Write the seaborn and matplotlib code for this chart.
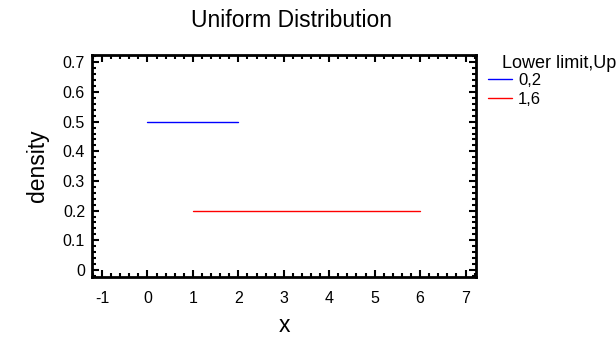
import numpy as np
import pandas as pd
import seaborn as sns
import matplotlib.pyplot as plt
from matplotlib.ticker import MultipleLocator

lower = [0, 1]
upper = [2, 6]
labels = ["0,2", "1,6"]
colors = ["#0000ff", "#ff0000"]

rows = []
for lo, up, lab in zip(lower, upper, labels):
    d = 1.0 / (up - lo)
    rows.append({"x": lo, "density": d, "series": lab})
    rows.append({"x": up, "density": d, "series": lab})
df = pd.DataFrame(rows)

sns.set_style("ticks")
plt.rcParams['font.family'] = ['Liberation Sans', 'DejaVu Sans']
plt.rcParams['axes.unicode_minus'] = False
plt.rcParams['text.color'] = 'black'
plt.rcParams['axes.labelcolor'] = 'black'

fig = plt.figure(figsize=(6.16, 3.37), dpi=100)
ax = fig.add_axes([0.1494, 0.178, 0.6233, 0.659])

sns.lineplot(data=df, x="x", y="density", hue="series", palette=colors,
             linewidth=1, ax=ax, legend=True)

ax.set_xlim(-1.22, 7.23)
ax.set_ylim(-0.024, 0.725)
ax.xaxis.set_major_locator(MultipleLocator(1))
ax.xaxis.set_minor_locator(MultipleLocator(0.2))
ax.yaxis.set_major_locator(MultipleLocator(0.1))
ax.yaxis.set_minor_locator(MultipleLocator(0.02))
ax.yaxis.set_major_formatter(plt.FuncFormatter(lambda v, p: f"{v:g}"))
ax.tick_params(which="both", direction="in", top=True, right=True,
               width=1.5, colors="black")
ax.tick_params(which="major", length=5, labelsize=11.5)
ax.tick_params(which="minor", length=3)
ax.tick_params(axis="x", which="major", pad=10)
ax.tick_params(axis="y", which="major", pad=5)
for s in ax.spines.values():
    s.set_linewidth(2)
    s.set_color("black")

ax.set_xlabel("x", fontsize=16.5, labelpad=6)
ax.set_ylabel("density", fontsize=16.5, labelpad=10)
fig.text(0.473, 0.938, "Uniform Distribution", ha="center", va="center", fontsize=16.5)

handles, labs = ax.get_legend_handles_labels()
fig.text(502 / 616, 1 - 63 / 337, "Lower limit,Upper limit", ha="left", va="center",
         fontsize=13)
ax.legend(handles, labs, frameon=False,
          loc="upper left", bbox_to_anchor=(488 / 616, 1 - 73 / 337),
          bbox_transform=fig.transFigure, fontsize=12,
          handlelength=1.45, handletextpad=0.35, labelspacing=0.25,
          borderaxespad=0, borderpad=0)

fig.savefig("out.png", dpi=100)
